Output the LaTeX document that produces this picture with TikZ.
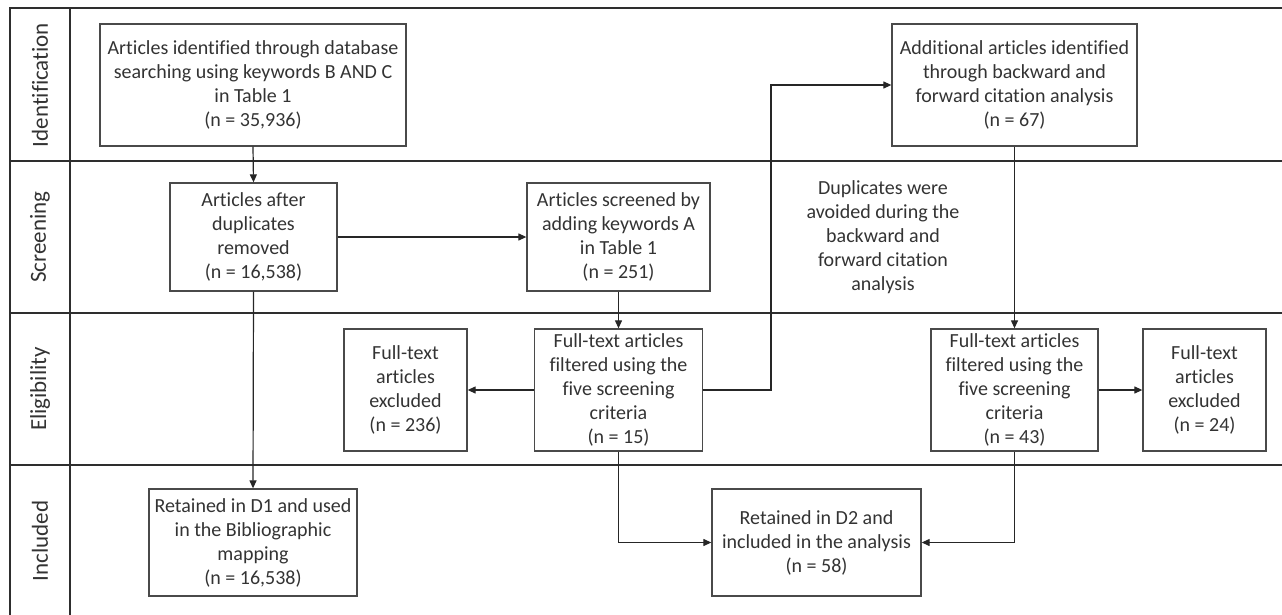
\documentclass[tikz,border=0pt]{standalone}
\usepackage{fontspec}
\setmainfont{Carlito}[Ligatures={NoCommon,NoContextual}]
\usetikzlibrary{arrows.meta,positioning,calc}
\definecolor{txt}{HTML}{333333}
\definecolor{boxline}{HTML}{4A4A4A}
\definecolor{frameline}{HTML}{2E2E2E}
\begin{document}
\begin{tikzpicture}[x=1pt,y=-1pt,
  stagebox/.style={draw=boxline,line width=1.3pt,rectangle,align=center,inner sep=2pt,
     text=txt,font=\fontsize{20}{24}\selectfont},
  bandlabel/.style={rotate=90,text=txt,font=\fontsize{23}{27}\selectfont,inner sep=0pt},
  noteText/.style={align=center,text=txt,font=\fontsize{20}{24}\selectfont},
  frame/.style={draw=frameline,line width=1.8pt},
  arr/.style={draw=black!85,line width=1.2pt,-{Triangle[length=8pt,width=7pt]}},
  plain/.style={draw=black!85,line width=1.2pt}
]
\useasboundingbox (0,0) rectangle (1282,615);
% frame
\draw[frame] (10,615) -- (10,8) -- (1282,8);
\draw[frame] (70,8) -- (70,615);
\draw[frame] (10,161) -- (1282,161);
\draw[frame] (10,313) -- (1282,313);
\draw[frame] (10,465) -- (1282,465);
% band labels
\node[bandlabel] (lid) at (40,85) {Identification};
\node[bandlabel] (lsc) at (40,237) {Screening};
\node[bandlabel] (lel) at (40,389) {Eligibility};
\node[bandlabel] (lin) at (40,541) {Included};
% boxes
\node[stagebox,minimum width=306pt,minimum height=122pt] (id) at (253,85)
  {Articles identified through database\\searching using keywords B AND C\\in Table 1\\(n = 35,936)};
\node[stagebox,minimum width=167pt,minimum height=108pt] (dup) at (253.5,237)
  {Articles after\\duplicates\\removed\\(n = 16,538)};
\node[stagebox,minimum width=183pt,minimum height=108pt] (scr) at (618.5,237)
  {Articles screened by\\adding keywords A\\in Table 1\\(n = 251)};
\node[stagebox,minimum width=245pt,minimum height=122pt] (add) at (1014.5,85)
  {Additional articles identified\\through backward and\\forward citation analysis\\(n = 67)};
\node[stagebox,minimum width=123pt,minimum height=122pt] (ex1) at (405.5,390)
  {Full-text\\articles\\excluded\\(n = 236)};
\node[stagebox,minimum width=168pt,minimum height=122pt] (f1) at (618.5,390)
  {Full-text articles\\filtered using the\\five screening\\criteria\\(n = 15)};
\node[stagebox,minimum width=167pt,minimum height=122pt] (f2) at (1014.5,390)
  {Full-text articles\\filtered using the\\five screening\\criteria\\(n = 43)};
\node[stagebox,minimum width=123pt,minimum height=122pt] (ex2) at (1204.5,390)
  {Full-text\\articles\\excluded\\(n = 24)};
\node[stagebox,minimum width=208pt,minimum height=107pt] (d1) at (253,542.5)
  {Retained in D1 and used\\in the Bibliographic\\mapping\\(n = 16,538)};
\node[stagebox,minimum width=209pt,minimum height=107pt] (d2) at (816.5,542.5)
  {Retained in D2 and\\included in the analysis\\(n = 58)};
\node[noteText] (note) at (883,237)
  {Duplicates were\\avoided during the\\backward and\\forward citation\\analysis};
% connectors
\draw[arr] (id.south) -- (dup.north);
\draw[arr] (dup.east) -- (scr.west);
\draw[arr] (scr.south) -- (f1.north);
\draw[arr] (dup.south) -- (d1.north);
\draw[arr] (f1.west) -- (ex1.east);
\coordinate (turn) at (771,390);
\draw[arr] (f1.east) -- (turn) |- (add.west);
\draw[arr] (add.south) -- (f2.north);
\draw[arr] (f2.east) -- (ex2.west);
\draw[arr] (f1.south) |- (d2.west);
\draw[arr] (f2.south) |- (d2.east);
\end{tikzpicture}
\end{document}
